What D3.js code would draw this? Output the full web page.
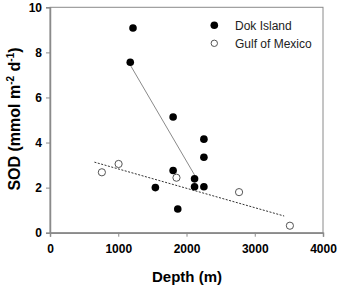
<!DOCTYPE html>
<html><head><meta charset="utf-8">
<script src="https://cdn.jsdelivr.net/npm/d3@7"></script>
<style>body{margin:0;background:#fff}svg{display:block}</style>
</head><body>
<script>
// Data
const dokDepth = [1216, 1176, 1804, 2255, 2255, 1804, 2118, 2118, 2255, 1872, 1544];
const dokSOD   = [9.08, 7.56, 5.13, 4.15, 3.35, 2.76, 2.39, 2.04, 2.04, 1.05, 2.0];
const gomDepth = [760, 1005, 1853, 2770, 3515];
const gomSOD   = [2.68, 3.05, 2.44, 1.80, 0.31];
const dokFitX = [1176, 2118];
const dokFitY = [7.44, 2.56];
const gomFitX = [651, 3431];
const gomFitY = [3.13, 0.74];
const xTicks = [0, 1000, 2000, 3000, 4000];
const yTicks = [0, 2, 4, 6, 8, 10];
const legendLabels = ["Dok Island", "Gulf of Mexico"];

const W = 338, H = 288;
const svg = d3.select("body").append("svg").attr("width", W).attr("height", H)
  .style("font-family", "'Liberation Sans', Arial, sans-serif");

const x = d3.scaleLinear().domain([0, 4000]).range([50, 323]);
const y = d3.scaleLinear().domain([0, 10]).range([232.7, 7.3]);
const axisCol = "#8a8a8a";

// frame
svg.append("rect").attr("x", x(0)).attr("y", y(10))
  .attr("width", x(4000) - x(0)).attr("height", y(0) - y(10))
  .attr("fill", "none").attr("stroke", axisCol).attr("stroke-width", 1);

const xAxis = svg.append("g").attr("transform", `translate(0,${y(0)})`)
  .call(d3.axisBottom(x).tickValues(xTicks).tickSize(4).tickPadding(8).tickFormat(d3.format("d")));
const yAxis = svg.append("g").attr("transform", `translate(${x(0)},0)`)
  .call(d3.axisLeft(y).tickValues(yTicks).tickSize(4).tickPadding(4).tickFormat(d3.format("d")));
[xAxis, yAxis].forEach(g => {
  g.select(".domain").attr("stroke", axisCol).attr("stroke-width", 1.5);
  g.selectAll(".tick line").attr("stroke", axisCol);
  g.selectAll(".tick text").attr("fill", "#000").style("font-size", "12px").style("font-weight", "bold")
    .style("font-family", "'Liberation Sans', Arial, sans-serif");
});

// regression lines
const line = d3.line().x(d => x(d[0])).y(d => y(d[1]));
svg.append("path").attr("d", line(d3.zip(dokFitX, dokFitY)))
  .attr("stroke", "#8a8a8a").attr("stroke-width", 1).attr("fill", "none");
svg.append("path").attr("d", line(d3.zip(gomFitX, gomFitY)))
  .attr("stroke", "#333").attr("stroke-width", 1).attr("stroke-dasharray", "2,1.5").attr("fill", "none");

// points
svg.append("g").selectAll("circle").data(d3.zip(dokDepth, dokSOD)).join("circle")
  .attr("cx", d => x(d[0])).attr("cy", d => y(d[1])).attr("r", 3.8).attr("fill", "#000");
svg.append("g").selectAll("circle").data(d3.zip(gomDepth, gomSOD)).join("circle")
  .attr("cx", d => x(d[0])).attr("cy", d => y(d[1])).attr("r", 3.6)
  .attr("fill", "#fff").attr("stroke", "#555").attr("stroke-width", 1);

// legend
const lg = svg.append("g");
legendLabels.forEach((t, i) => {
  const cy = 25.3 + i * 18;
  const c = lg.append("circle").attr("cx", 214.3).attr("cy", cy);
  if (i === 0) c.attr("r", 3.8).attr("fill", "#000");
  else c.attr("r", 3.2).attr("fill", "#fff").attr("stroke", "#555");
  lg.append("text").attr("x", 235).attr("y", cy + 4.3).text(t)
    .style("font-size", "12px").attr("fill", "#222");
});

// axis titles
svg.append("text").attr("x", 187).attr("y", 282).attr("text-anchor", "middle")
  .style("font-size", "15px").style("font-weight", "bold").text("Depth (m)");
const yt = svg.append("text").attr("transform", "translate(19.5,119) rotate(-90)")
  .attr("text-anchor", "middle").style("font-size", "16px").style("font-weight", "bold");
yt.append("tspan").text("SOD (mmol m");
yt.append("tspan").attr("dy", -6).style("font-size", "10px").text("-2");
yt.append("tspan").attr("dy", 6).text(" d");
yt.append("tspan").attr("dy", -6).style("font-size", "10px").text("-1");
yt.append("tspan").attr("dy", 6).text(")");
</script>
</body></html>
